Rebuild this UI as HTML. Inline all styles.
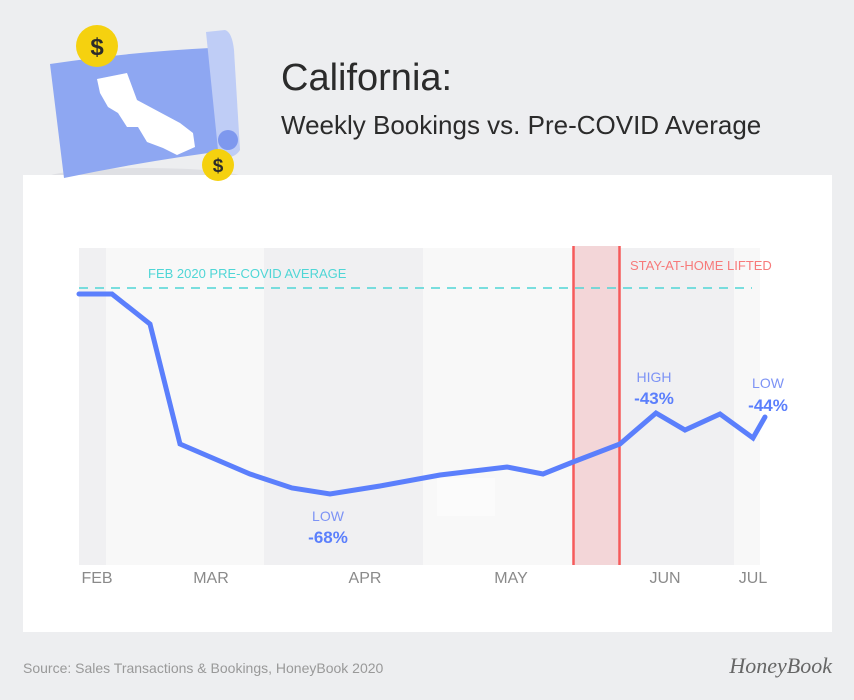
<!DOCTYPE html>
<html><head><meta charset="utf-8"><style>
body{margin:0;width:854px;height:700px;background:#edeef0;font-family:"Liberation Sans",sans-serif;overflow:hidden;position:relative}
</style></head><body>
<svg width="854" height="700" style="position:absolute;left:0;top:0">
<ellipse cx="145" cy="178" rx="98" ry="10" fill="#dfe0e4"/>
<rect x="23" y="175" width="809" height="457" fill="#fff"/>
<path d="M50 64 Q130 52 210 48 L232 150 Q150 160 64 178 Z" fill="#8ea7f2"/>
<path d="M206 32 L225 30 Q232 32 234 50 L240 150 Q236 157 225 158 L218 150 Z" fill="#bfcdf6"/>
<circle cx="228" cy="140" r="10" fill="#7e98ee"/>
<path d="M97 79 L127 73 L137 100 L180 123 L193 133 L195 147 L177 155 L163 148 L147 142 L138 127 L127 127 L118 113 L108 107 L100 93 Z" fill="#fff"/>
<circle cx="97" cy="46" r="21" fill="#f5d10f"/><text x="97" y="55" text-anchor="middle" font-size="24" font-weight="bold" fill="#2b2b2b">$</text>
<circle cx="218" cy="165" r="16" fill="#f5d10f"/><text x="218" y="172" text-anchor="middle" font-size="19" font-weight="bold" fill="#2b2b2b">$</text>
<rect x="79" y="248" width="27" height="317" fill="#f0f0f2"/>
<rect x="106" y="248" width="158" height="317" fill="#f8f8f8"/>
<rect x="264" y="248" width="159" height="317" fill="#f0f0f2"/>
<rect x="423" y="248" width="150" height="317" fill="#f8f8f8"/>
<rect x="437" y="478" width="58" height="38" fill="#fbfbfb"/>
<rect x="573" y="246" width="47" height="319" fill="#f3d6d8"/>
<rect x="620" y="248" width="114" height="317" fill="#f0f0f2"/>
<rect x="734" y="248" width="26" height="317" fill="#f8f8f8"/>
<line x1="79" y1="288" x2="752" y2="288" stroke="#4fd6d6" stroke-width="1.5" stroke-dasharray="9,7"/>
<line x1="573.5" y1="246" x2="573.5" y2="565" stroke="#f65a5a" stroke-width="2.5"/>
<line x1="619.5" y1="246" x2="619.5" y2="565" stroke="#f65a5a" stroke-width="2.5"/>
<polyline points="79,294 112,294 150,324 180,444 250,474 292,488 330,494 380,486 440,475 507,467 543,474 573,462 620,444 656,413 685,430 720,414 753,438 765,417" fill="none" stroke="#5b7ffc" stroke-width="5" stroke-linejoin="miter" stroke-linecap="round"/>
<g font-size="13" fill="#4fd6d6"><text x="148" y="278">FEB 2020 PRE-COVID AVERAGE</text></g>
<text x="630" y="270" font-size="13" fill="#f77a7a">STAY-AT-HOME LIFTED</text>
<g fill="#5b7ffc" text-anchor="middle">
<text x="328" y="521" font-size="14" fill="#7d93f5">LOW</text><text x="328" y="543" font-size="17" font-weight="bold">-68%</text>
<text x="654" y="382" font-size="14" fill="#7d93f5">HIGH</text><text x="654" y="404" font-size="17" font-weight="bold">-43%</text>
<text x="768" y="388" font-size="14" fill="#7d93f5">LOW</text><text x="768" y="411" font-size="17" font-weight="bold">-44%</text>
</g>
<g font-size="16" fill="#8a8a8a" text-anchor="middle">
<text x="97" y="583">FEB</text><text x="211" y="583">MAR</text><text x="365" y="583">APR</text><text x="511" y="583">MAY</text><text x="665" y="583">JUN</text><text x="753" y="583">JUL</text>
</g>
<text x="281" y="90" font-size="38" fill="#2b2b2b">California:</text>
<text x="281" y="134" font-size="26" fill="#2b2b2b">Weekly Bookings vs. Pre-COVID Average</text>
<text x="23" y="673" font-size="14" fill="#999">Source: Sales Transactions &amp; Bookings, HoneyBook 2020</text>
<text x="832" y="673" font-size="22" font-style="italic" font-family="Liberation Serif,serif" fill="#666" text-anchor="end">HoneyBook</text>
</svg>
</body></html>
